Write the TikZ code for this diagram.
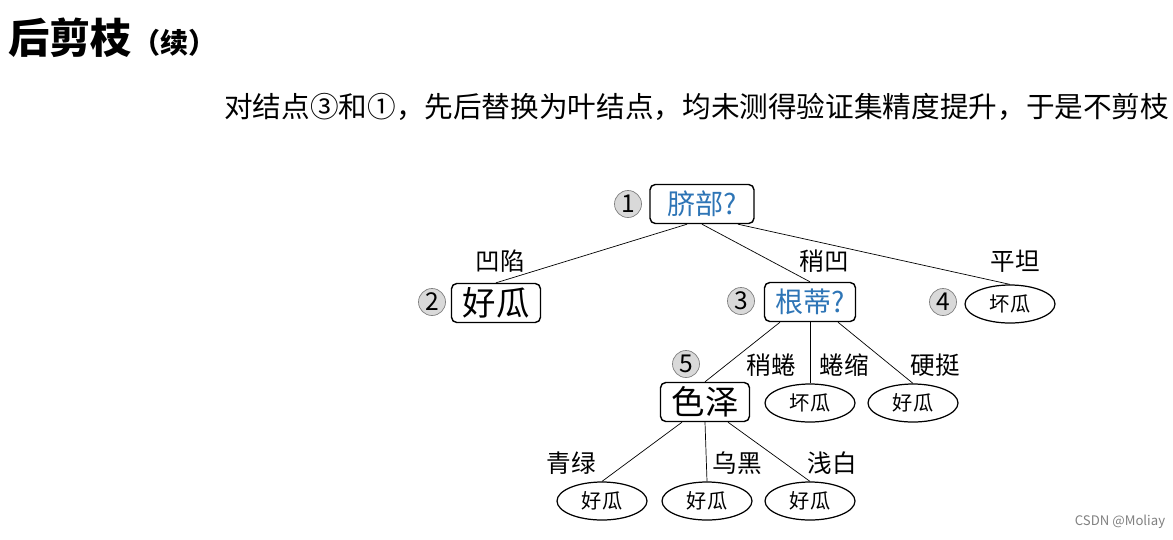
\documentclass[tikz,border=0pt]{standalone}
\usepackage{fontspec}
\setmainfont{Noto Sans CJK SC}
\usepackage{xcolor}
\usetikzlibrary{shapes.geometric}
\definecolor{askblue}{RGB}{46,117,182}

\begin{document}
\begin{tikzpicture}[x=0.02cm, y=-0.02cm,
    box/.style={draw, line width=0.8pt, rounded corners=3pt, minimum width=1.78cm, minimum height=0.78cm, inner sep=0pt, font=\fontsize{19}{19}\selectfont},
    ask/.style={box, text=askblue, font=\fontsize{16}{16}\selectfont},
    leaf/.style={draw, line width=0.7pt, ellipse, minimum width=1.8cm, minimum height=0.76cm, inner sep=0pt, font=\fontsize{11.5}{12}\selectfont},
    num/.style={circle, draw=gray, fill=gray!30, minimum size=0.54cm, inner sep=0pt, font=\fontsize{14}{14}\selectfont},
    lab/.style={font=\fontsize{14}{14}\selectfont}]
  \useasboundingbox (0,0) rectangle (1173,539);

  \node[anchor=west, font=\bfseries\fontsize{23.5}{24}\selectfont] (title) at (2,38) {后剪枝\fontsize{16}{16}\selectfont（续）};
  \node[anchor=west, font=\fontsize{16.3}{17}\selectfont] (sub) at (218,107) {对结点③和①，先后替换为叶结点，均未测得验证集精度提升，于是不剪枝};

  % tree
  \node[ask, minimum width=2.08cm] (n1) at (702,204) {脐部?};
  \node[box] (n2) at (496,303) {好瓜};
  \node[ask, minimum width=1.82cm] (n3) at (810,302) {根蒂?};
  \node[leaf] (n4) at (1010,304) {坏瓜};
  \node[box] (n5) at (705,402) {色泽};
  \node[leaf] (l1) at (810,403) {坏瓜};
  \node[leaf] (l2) at (913,403) {好瓜};
  \node[leaf] (l3) at (602,501) {好瓜};
  \node[leaf] (l4) at (707,501) {好瓜};
  \node[leaf] (l5) at (810,501) {好瓜};

  \node[num] (c1) at (628,204) {1};
  \node[num] (c2) at (432,302) {2};
  \node[num] (c3) at (741,301) {3};
  \node[num] (c4) at (943,302) {4};
  \node[num] (c5) at (686,364) {5};

  \draw ([xshift=-0.3cm]n1.south) -- (n2.north);
  \draw (n1.south) -- (n3.north);
  \draw ([xshift=0.72cm]n1.south) -- (n4.north);
  \draw ([xshift=-0.6cm]n3.south) -- (n5.north);
  \draw (n3.south) -- (l1.north);
  \draw ([xshift=0.56cm]n3.south) -- (l2.north);
  \draw ([xshift=-0.46cm]n5.south) -- (l3.north);
  \draw (n5.south) -- (l4.north);
  \draw ([xshift=0.46cm]n5.south) -- (l5.north);

  \node[lab] (e1) at (500,261) {凹陷};
  \node[lab] (e2) at (824,261) {稍凹};
  \node[lab] (e3) at (1015,261) {平坦};
  \node[lab] (e4) at (771,365) {稍蜷};
  \node[lab] (e5) at (844,365) {蜷缩};
  \node[lab] (e6) at (935,365) {硬挺};
  \node[lab] (e7) at (571,463) {青绿};
  \node[lab] (e8) at (737,463) {乌黑};
  \node[lab] (e9) at (832,463) {浅白};

  \node[text=gray, font=\fontsize{7.5}{8}\selectfont] (mark) at (1120,522) {CSDN @Moliay};
\end{tikzpicture}
\end{document}
